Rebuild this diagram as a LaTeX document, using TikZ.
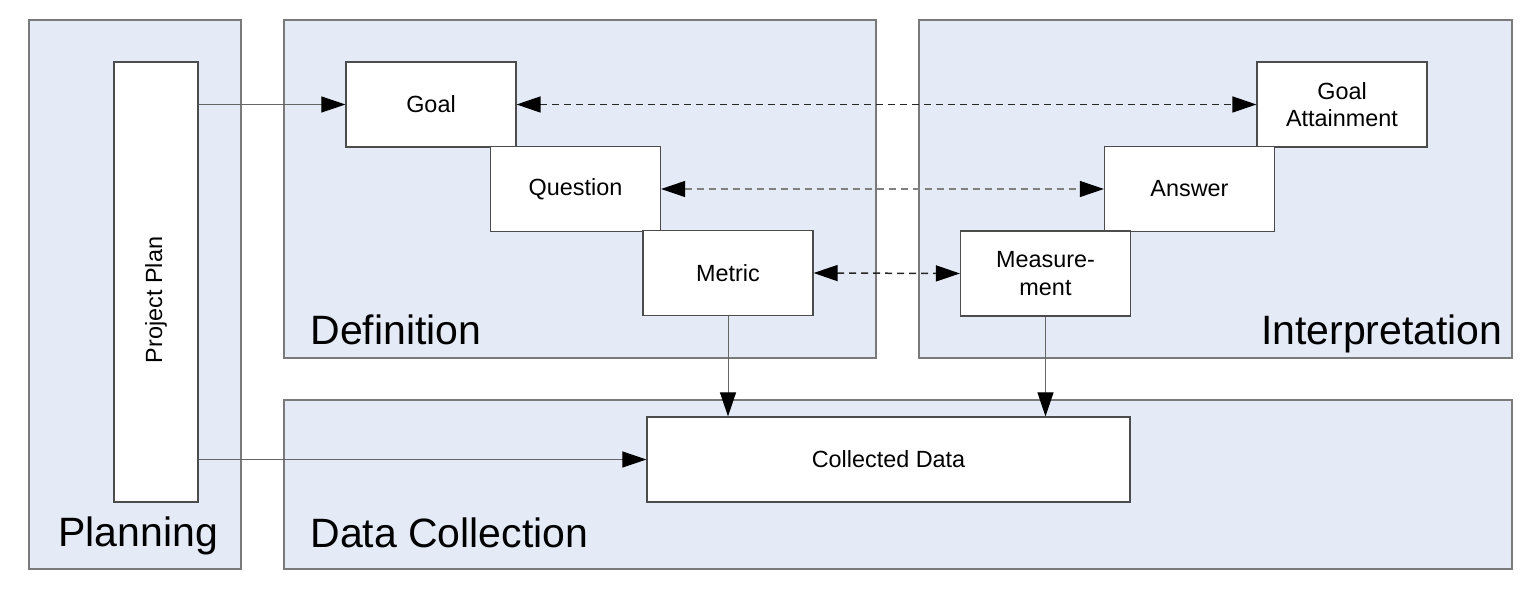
\documentclass[tikz,border=0pt]{standalone}
\usepackage{fontspec}
\setmainfont{Liberation Sans}
\usetikzlibrary{arrows.meta,positioning}
\definecolor{panelBlue}{HTML}{E4EBF6}
\definecolor{edgeGray}{HTML}{7A7A7A}

\begin{document}
\begin{tikzpicture}[x=0.5pt,y=-0.5pt,
  panel/.style={fill=panelBlue,draw=edgeGray,line width=0.7pt},
  box/.style={draw=black!70,fill=white,line width=0.6pt,inner sep=0pt,
    font=\fontsize{11.7}{13.8}\selectfont,align=center,
    minimum width=85pt,minimum height=42.5pt},
  phase/.style={font=\fontsize{20.5}{24}\selectfont,inner sep=0pt},
  flow/.style={draw=black!60,line width=0.5pt,-{Triangle[length=12pt,width=8pt,black]}},
  link/.style={draw=black!85,line width=0.75pt,dash pattern=on 3.5pt off 2.5pt,
    {Triangle[length=12pt,width=8pt,black]}-{Triangle[length=12pt,width=8pt,black]}}]
\useasboundingbox (0,0) rectangle (1538,598);
% phases
\draw[panel] (29,20) rectangle (241,569);
\draw[panel] (284,20) rectangle (876,358);
\draw[panel] (919,20) rectangle (1512,358);
\draw[panel] (284,400) rectangle (1512,569);
\node[phase,anchor=base west] (planning) at (58,547) {Planning};
\node[phase,anchor=base west] (definition) at (310,345) {Definition};
\node[phase,anchor=base east] (interpretation) at (1503,345) {Interpretation};
\node[phase,anchor=base west] (collection) at (310,548) {Data Collection};
% boxes
\node[box,rotate=90,minimum width=220pt,minimum height=42pt] (plan) at (156,282) {Project Plan\hspace*{18pt}};
\node[box] (goal) at (431,104.5) {Goal};
\node[box] (question) at (575.5,189) {Question};
\node[box] (metric) at (728,273) {Metric};
\node[box] (attain) at (1342,104.5) {Goal\\Attainment};
\node[box] (answer) at (1189.5,189) {Answer};
\node[box] (measure) at (1045.5,273.5) {Measure-\\ment};
\node[box,minimum width=241.5pt] (data) at (888.5,459.5) {Collected Data};
% arrows
\draw[flow] (plan.south |- goal.west) -- (goal.west);
\draw[flow] (plan.south |- data.west) -- (data.west);
\draw[flow] (metric.south) -- (metric.south |- data.north);
\draw[flow] (measure.south) -- (measure.south |- data.north);
\draw[link] (goal.east) -- (attain.west);
\draw[link,draw=black!50,line width=0.6pt] (question.east) -- (answer.west);
\draw[link] (metric.east) -- (measure.west);
\end{tikzpicture}
\end{document}
